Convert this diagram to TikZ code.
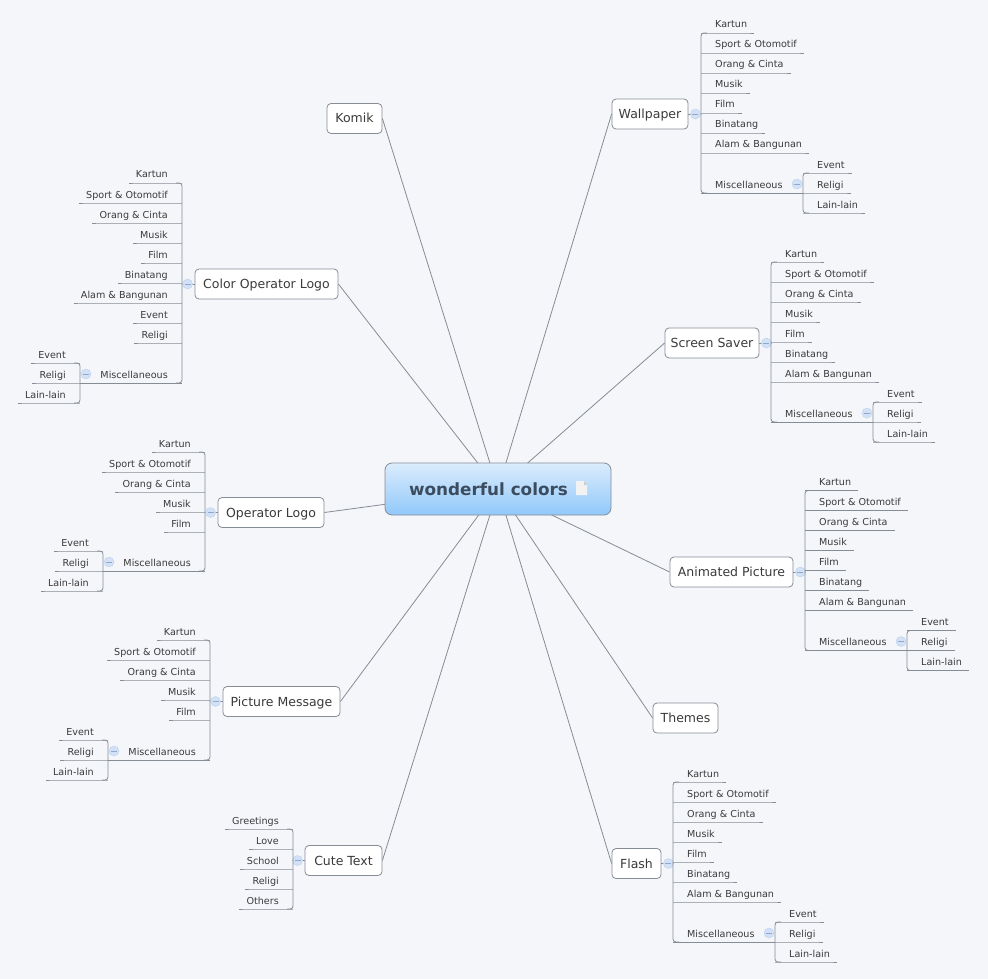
\documentclass[tikz,border=0pt]{standalone}
\usepackage{fontspec}
\setmainfont{DejaVu Sans}
\usepackage{tikz}
\usetikzlibrary{calc}
\definecolor{bgcol}{HTML}{F4F6FA}
\definecolor{linecol}{HTML}{868C94}
\definecolor{textcol}{HTML}{3A3A3A}
\definecolor{titlecol}{HTML}{3B4C5E}
\definecolor{foldcol}{HTML}{D2E1F6}
\definecolor{foldedge}{HTML}{BBD0EE}
\definecolor{foldmark}{HTML}{8FA8D0}
\definecolor{hubtop}{HTML}{DBECFC}
\definecolor{hubbottom}{HTML}{91C8FB}
\tikzset{
	topic/.style={draw=linecol,line width=.8pt,rounded corners=4pt,fill=white,text=textcol,
		inner sep=0pt,minimum height=30pt,text height=10pt,text depth=1pt,font=\fontsize{12.5}{14}\selectfont},
	item/.style={inner sep=0pt,text=textcol,text height=9pt,text depth=1pt,font=\fontsize{9.6}{11}\selectfont},
	twig/.style={draw=linecol,line width=.8pt},
	spoke/.style={draw=linecol,line width=.8pt},
	fold/.style={circle,draw=foldedge,fill=foldcol,line width=.4pt,inner sep=0pt,minimum size=10pt,
		path picture={\draw[foldmark,line width=.5pt] ([xshift=-3pt]path picture bounding box.center) -- ([xshift=3pt]path picture bounding box.center);}},
}
\newcommand{\seven}{Kartun,Sport \& Otomotif,Orang \& Cinta,Musik,Film,Binatang,Alam \& Bangunan}
\newcommand{\five}{Kartun,Sport \& Otomotif,Orang \& Cinta,Musik,Film}
\newcommand{\three}{Event,Religi,Lain-lain}
% lists growing to the right
\newcommand{\listR}[4]{
	\foreach \lbl [count=\i] in #4 {
		\pgfmathsetmacro\yy{#3+20*(\i-1)}
		\node[item,anchor=west] (#1-\i) at (#2+14,\yy) {\lbl};
		\coordinate (#1-\i-b) at (#2,\yy+9);
		\draw[twig] (#1-\i-b) -- (#1-\i-b -| #1-\i.east) -- ++(7,0);
	}
}
\newcommand{\bracketR}[2]{
	\draw[twig,rounded corners=3pt] ([xshift=6pt]#1) -- (#1) -- (#2) -- ([xshift=6pt]#2);
}
\newcommand{\miscR}[4]{
	\node[item,anchor=west] (#1-misc) at (#2+14,#3) {Miscellaneous};
	\coordinate (#1-misc-b) at (#2,#3+9);
	\coordinate (#1-misc-t) at (#4,#3+9);
	\draw[twig] (#1-misc-b) -- (#1-misc-t);
	\listR{#1-sub}{#4}{#3-20}{\three}
	\bracketR{#1-sub-1-b}{#1-sub-3-b}
	\node[fold] (#1-misc-fold) at (#4-6,#3) {};
}
\newcommand{\stemR}[2]{
	\draw[twig] (#1.east) -- ([xshift=13pt]#1.east);
	\node[fold] (#2-fold) at ([xshift=7pt]#1.east) {};
}
% lists growing to the left
\newcommand{\listL}[4]{
	\foreach \lbl [count=\i] in #4 {
		\pgfmathsetmacro\yy{#3+20*(\i-1)}
		\node[item,anchor=east] (#1-\i) at (#2-14,\yy) {\lbl};
		\coordinate (#1-\i-b) at (#2,\yy+9);
		\draw[twig] (#1-\i-b) -- (#1-\i-b -| #1-\i.west) -- ++(-7,0);
	}
}
\newcommand{\bracketL}[2]{
	\draw[twig,rounded corners=3pt] ([xshift=-6pt]#1) -- (#1) -- (#2) -- ([xshift=-6pt]#2);
}
\newcommand{\miscL}[4]{
	\node[item,anchor=east] (#1-misc) at (#2-14,#3) {Miscellaneous};
	\coordinate (#1-misc-b) at (#2,#3+9);
	\coordinate (#1-misc-t) at (#4,#3+9);
	\draw[twig] (#1-misc-b) -- (#1-misc-t);
	\listL{#1-sub}{#4}{#3-20}{\three}
	\bracketL{#1-sub-1-b}{#1-sub-3-b}
	\node[fold] (#1-misc-fold) at (#4+6,#3) {};
}
\newcommand{\stemL}[2]{
	\draw[twig] (#1.west) -- ([xshift=-13pt]#1.west);
	\node[fold] (#2-fold) at ([xshift=-7pt]#1.west) {};
}

\begin{document}
\begin{tikzpicture}[x=1pt,y=-1pt]
	\fill[bgcol] (0,0) rectangle (988,979);
	\useasboundingbox (0,0) rectangle (988,979);
	\coordinate (hub) at (498,489);

	\node[topic,minimum width=55pt] (komik) at (354.5,118.5) {Komik};
	\node[topic,minimum width=76pt] (wallpaper) at (650,114) {Wallpaper};
	\node[topic,minimum width=94pt] (screen) at (712,343) {Screen Saver};
	\node[topic,minimum width=123pt] (animated) at (731.5,572) {Animated Picture};
	\node[topic,minimum width=65pt] (themes) at (685.5,718) {Themes};
	\node[topic,minimum width=49pt] (flash) at (636.5,863.5) {Flash};
	\node[topic,minimum width=77pt] (cute) at (343.5,860.5) {Cute Text};
	\node[topic,minimum width=117pt] (picture) at (281.5,701.5) {Picture Message};
	\node[topic,minimum width=106pt] (operator) at (271,512.5) {Operator Logo};
	\node[topic,minimum width=143pt] (color) at (266.5,284) {Color Operator Logo};

	\foreach \t in {komik,cute,picture,operator,color}
		\draw[spoke] (hub) -- (\t.east);
	\foreach \t in {wallpaper,screen,animated,themes,flash}
		\draw[spoke] (hub) -- (\t.west);

	\node[draw=linecol,line width=.8pt,rounded corners=7pt,top color=hubtop,bottom color=hubbottom,
		minimum width=226pt,minimum height=52pt,inner sep=0pt,text=titlecol,
		font=\bfseries\fontsize{16.8}{20}\selectfont] (central) at (498,489) {wonderful colors\kern19pt\mbox{}};
	\fill[white!90!gray] (576,481) -- (584,481) -- (587,485) -- (587,495) -- (576,495) -- cycle;
	\fill[gray!40] (584,481) -- (584,485) -- (587,485) -- cycle;

	\stemR{wallpaper}{wall}
	\listR{wall}{701}{24}{\seven}
	\miscR{wall}{701}{184}{803}
	\bracketR{wall-1-b}{wall-misc-b}

	\stemR{screen}{scr}
	\listR{scr}{771}{253}{\seven}
	\miscR{scr}{771}{413}{873}
	\bracketR{scr-1-b}{scr-misc-b}

	\stemR{animated}{ani}
	\listR{ani}{805}{481.5}{\seven}
	\miscR{ani}{805}{641.5}{907}
	\bracketR{ani-1-b}{ani-misc-b}

	\stemR{flash}{fla}
	\listR{fla}{673}{773}{\seven}
	\miscR{fla}{673}{933}{775}
	\bracketR{fla-1-b}{fla-misc-b}

	\stemL{color}{col}
	\listL{col}{182}{174}{{Kartun,Sport \& Otomotif,Orang \& Cinta,Musik,Film,Binatang,Alam \& Bangunan,Event,Religi}}
	\miscL{col}{182}{374}{80}
	\bracketL{col-1-b}{col-misc-b}

	\stemL{operator}{ope}
	\listL{ope}{205}{443}{\five}
	\miscL{ope}{205}{562}{103}
	\bracketL{ope-1-b}{ope-misc-b}

	\stemL{picture}{pic}
	\listL{pic}{210}{631}{\five}
	\miscL{pic}{210}{751}{108}
	\bracketL{pic-1-b}{pic-misc-b}

	\stemL{cute}{cut}
	\listL{cut}{293}{820}{{Greetings,Love,School,Religi,Others}}
	\bracketL{cut-1-b}{cut-5-b}
\end{tikzpicture}
\end{document}
